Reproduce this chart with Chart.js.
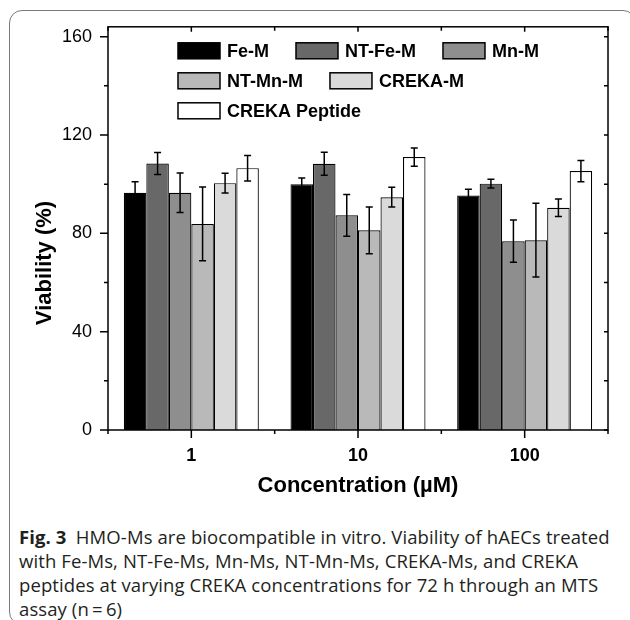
<!DOCTYPE html>
<html>
<head>
<meta charset="utf-8">
<script src="https://cdn.jsdelivr.net/npm/chart.js@4.4.1/dist/chart.umd.min.js"></script>
<style>
  html, body { margin: 0; padding: 0; background: #fff; }
  body { width: 630px; height: 620px; position: relative; overflow: hidden; }
  .frame {
    position: absolute; left: 9px; top: 10px; width: 625px; height: 613px;
    border: 1.2px solid #7a7a7a; border-radius: 13px;
  }
  #chart { position: absolute; left: 0; top: 0; }
  .caption {
    position: absolute; left: 19px; top: 525px; white-space: nowrap;
    font-family: "Open Sans", sans-serif; font-size: 18.5px; line-height: 24px;
    color: #231f20; letter-spacing: 0.1px;
  }
  .caption b { font-weight: 700; }
</style>
</head>
<body>
<div class="frame"></div>
<canvas id="chart" width="630" height="520"></canvas>
<div class="caption">
  <b>Fig. 3</b>&ensp;HMO-Ms are biocompatible in vitro. Viability of hAECs treated<br>
  with Fe-Ms, NT-Fe-Ms, Mn-Ms, NT-Mn-Ms, CREKA-Ms, and CREKA<br>
  peptides at varying CREKA concentrations for 72 h through an MTS<br>
  assay (n&thinsp;=&thinsp;6)
</div>
<script>
// concentrations (µM)
const categories = ["1", "10", "100"];

// viability (%) and error bars
const feM        = [96.5, 100.0, 95.4];
const feMErr     = [4.5, 2.5, 2.5];
const ntFeM      = [108.4, 108.3, 100.2];
const ntFeMErr   = [4.5, 4.7, 1.8];
const mnM        = [96.5, 87.3, 76.8];
const mnMErr     = [8.0, 8.5, 8.6];
const ntMnM      = [83.8, 81.2, 77.2];
const ntMnMErr   = [15.0, 9.5, 15.0];
const crekaM     = [100.4, 94.7, 90.4];
const crekaMErr  = [4.0, 4.0, 3.6];
const peptide    = [106.5, 111.0, 105.3];
const peptideErr = [5.2, 3.7, 4.3];

const seriesNames = ["Fe-M", "NT-Fe-M", "Mn-M", "NT-Mn-M", "CREKA-M", "CREKA Peptide"];
const yTicks = [0, 40, 80, 120, 160];

const fills = ["#000000", "#686868", "#8e8e8e", "#b9b9b9", "#dadada", "#ffffff"];
const values = [feM, ntFeM, mnM, ntMnM, crekaM, peptide];
const errors = [feMErr, ntFeMErr, mnMErr, ntMnMErr, crekaMErr, peptideErr];

const BOLD = '"Liberation Sans", Arial, sans-serif';

// error bars on top of each bar
const errorBars = {
  id: "errorBars",
  afterDatasetsDraw(chart) {
    const { ctx, scales: { y } } = chart;
    ctx.save();
    ctx.strokeStyle = "#000";
    ctx.lineWidth = 1.5;
    chart.data.datasets.forEach((ds, i) => {
      const meta = chart.getDatasetMeta(i);
      meta.data.forEach((bar, j) => {
        const v = ds.data[j], e = ds.errors[j];
        const top = y.getPixelForValue(v + e);
        const bot = y.getPixelForValue(v - e);
        ctx.beginPath();
        ctx.moveTo(bar.x, top); ctx.lineTo(bar.x, bot);
        ctx.moveTo(bar.x - 3.5, top); ctx.lineTo(bar.x + 3.5, top);
        ctx.moveTo(bar.x - 3.5, bot); ctx.lineTo(bar.x + 3.5, bot);
        ctx.stroke();
      });
    });
    ctx.restore();
  }
};

// box frame with ticks (outward left/bottom, inward right/top)
const frameTicks = {
  id: "frameTicks",
  afterDraw(chart) {
    const { ctx, chartArea: a, scales: { x, y } } = chart;
    ctx.save();
    ctx.strokeStyle = "#000";
    ctx.lineWidth = 1.5;
    ctx.strokeRect(a.left, a.top, a.right - a.left, a.bottom - a.top);
    ctx.beginPath();
    y.ticks.forEach(t => {
      const py = y.getPixelForValue(t.value);
      const major = t.value % 40 === 0;
      ctx.moveTo(a.left - (major ? 8 : 4), py); ctx.lineTo(a.left, py);
      ctx.moveTo(a.right, py); ctx.lineTo(a.right - 4, py);
    });
    const step = x.getPixelForValue(1) - x.getPixelForValue(0);
    categories.forEach((c, i) => {
      const px = x.getPixelForValue(i);
      ctx.moveTo(px, a.bottom); ctx.lineTo(px, a.bottom + 8);
      ctx.moveTo(px, a.top); ctx.lineTo(px, a.top + 5);
      [px - step / 2, px + step / 2].forEach(bx => {
        ctx.moveTo(bx, a.bottom); ctx.lineTo(bx, a.bottom + 4);
        ctx.moveTo(bx, a.top); ctx.lineTo(bx, a.top + 4);
      });
    });
    ctx.stroke();

    // axis titles
    ctx.fillStyle = "#000";
    ctx.font = "bold 22px " + BOLD;
    ctx.textAlign = "center";
    ctx.textBaseline = "middle";
    ctx.fillText("Concentration (µM)", (a.left + a.right) / 2, 486);
    ctx.translate(45, 263);
    ctx.rotate(-Math.PI / 2);
    ctx.fillText("Viability (%)", 0, 0);
    ctx.restore();
  }
};

// legend drawn inside the plot, rows left aligned
const insideLegend = {
  id: "insideLegend",
  afterDraw(chart) {
    const { ctx, chartArea: a } = chart;
    const rows = [[0, 1, 2], [3, 4], [5]];
    const boxW = 42, boxH = 16, gap = 27;
    ctx.save();
    ctx.font = "bold 18px " + BOLD;
    ctx.textBaseline = "middle";
    ctx.textAlign = "left";
    rows.forEach((row, r) => {
      let lx = a.left + 70;
      const cy = a.top + 24 + r * 30;
      row.forEach(i => {
        const ds = chart.data.datasets[i];
        ctx.fillStyle = ds.backgroundColor;
        ctx.fillRect(lx, cy - boxH / 2, boxW, boxH);
        ctx.strokeStyle = "#000";
        ctx.lineWidth = 1.5;
        ctx.strokeRect(lx, cy - boxH / 2, boxW, boxH);
        ctx.fillStyle = "#000";
        ctx.fillText(ds.label, lx + boxW + 7, cy + 1);
        lx += boxW + 7 + ctx.measureText(ds.label).width + gap;
      });
    });
    ctx.restore();
  }
};

new Chart(document.getElementById("chart"), {
  type: "bar",
  data: {
    labels: categories,
    datasets: seriesNames.map((name, i) => ({
      label: name,
      data: values[i],
      errors: errors[i],
      backgroundColor: fills[i],
      borderColor: "#000",
      borderWidth: 1.2,
      barPercentage: 1,
      categoryPercentage: 0.81
    }))
  },
  options: {
    responsive: false,
    animation: false,
    layout: { padding: { left: 0, right: 22, top: 26, bottom: 0 } },
    plugins: { legend: { display: false }, tooltip: { enabled: false } },
    scales: {
      x: {
        grid: { display: false, drawTicks: false },
        border: { display: false },
        ticks: { color: "#000", padding: 15, font: { family: BOLD, size: 18, weight: "bold" } },
        afterFit: s => { s.height = 90; }
      },
      y: {
        min: 0,
        max: 164,
        grid: { display: false, drawTicks: false },
        border: { display: false },
        ticks: {
          stepSize: 20,
          includeBounds: false,
          padding: 16,
          color: "#000",
          font: { family: '"Liberation Sans", Arial, sans-serif', size: 18 },
          callback: v => (yTicks.includes(v) ? String(v) : "")
        },
        afterFit: s => { s.width = 108; }
      }
    }
  },
  plugins: [errorBars, frameTicks, insideLegend]
});
</script>
</body>
</html>
